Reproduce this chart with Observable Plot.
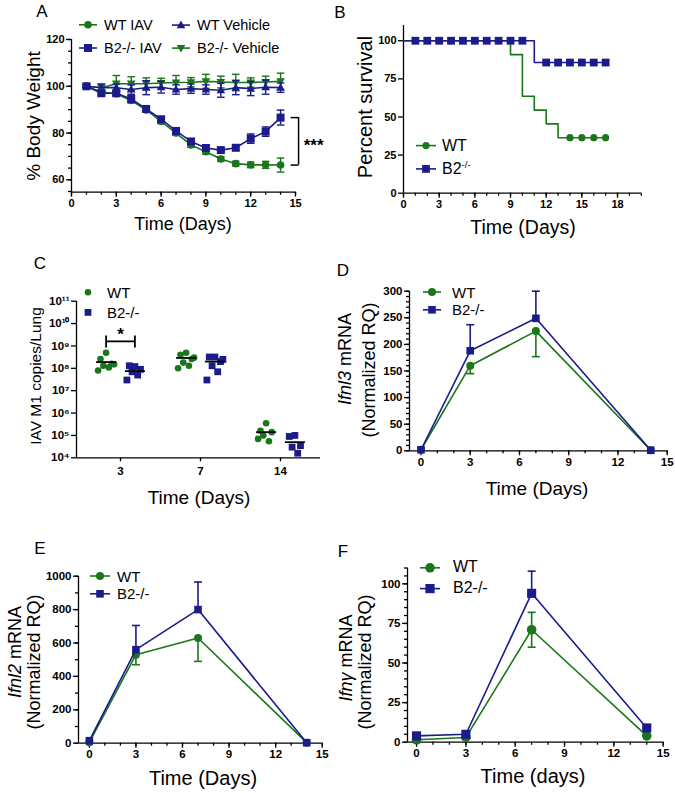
<!DOCTYPE html>
<html><head><meta charset="utf-8">
<script src="https://cdn.jsdelivr.net/npm/d3@7"></script>
<script src="https://cdn.jsdelivr.net/npm/@observablehq/plot@0.6"></script>
<style>
body{margin:0;background:#fff;}
#fig{position:relative;width:675px;height:793px;font-family:"Liberation Sans",Arial,Helvetica,sans-serif;color:#000;overflow:hidden;background:#fff}
.lab{position:absolute;white-space:nowrap;line-height:1;}
.rot{transform:translate(-50%,-50%) rotate(-90deg);}
.ctr{transform:translate(-50%,-50%);}
.ltxt{position:absolute;white-space:nowrap;line-height:1;transform:translateY(-50%);}
sup{font-size:60%;vertical-align:0.6em;line-height:0}
</style></head>
<body><div id="fig"></div>
<script>
const GREEN = "#1a761a", BLUE = "#1b1b8c";

// ---------- Panel A: % body weight ----------
const daysA   = [1,2,3,4,5,6,7,8,9,10,11,12,13,14];
const wtIAV   = [100,97.5,96.8,93.9,89.9,85.0,80.0,74.9,72.0,68.9,66.9,66.4,66.4,66.3];
const wtIAVse = [0.5,0.8,0.8,1,1,1,1,1,1,1,1,1.2,1.5,3];
const b2IAV   = [100,97,97,94.6,90.3,85.9,80.9,76.4,73.6,72.7,73.7,77.6,80.6,86.6];
const b2IAVse = [0.5,1,1,1.5,1,1,1,1,1,0.8,1,2,2,3.2];
const wtVeh   = [100,99.4,99.4,98.6,99.4,99.6,98.6,99,98.6,98.3,99.4,99,99.6,99.4];
const wtVehSe = [0.5,1.5,1.5,2,3,2.5,2,2,2,3,3,3,3,2];
const b2Veh   = [100,99.4,101.1,101.1,101.1,101.4,101.6,101.7,102.1,101.8,101.6,101.6,101.8,102.1];
const b2VehSe = [0.5,1.5,3.5,3,2.5,2,3,2,3,2.5,3.5,2,2.5,3.5];
const ticksA_x = [0,3,6,9,12,15], ticksA_y = [60,80,100,120];

// ---------- Panel B: survival ----------
const wtSurvT = [0,9,10,11,12,13,17], wtSurvS = [100,90.9,63.6,54.5,45.5,36.4,36.4];
const b2SurvT = [0,11,17],            b2SurvS = [100,85.7,85.7];
const wtMarkT = [14,15,16,17];
const b2MarkT = [1,2,3,4,5,6,7,8,9,10,12,13,14,15,16,17];
const ticksB_x = [0,3,6,9,12,15,18], ticksB_y = [0,25,50,75,100];

// ---------- Panel C: viral copies ----------
const cDays = ["3","7","14"];
const cWT = [[5e8,2.6e8,1.6e8,1.3e8,1.1e8,8e7,1.5e8],[5e8,4e8,2.6e8,1.8e8,1.3e8,1e8,3e8],[3.5e5,1.6e5,1.4e5,1e5,5.5e4,7e4]];
const cB2 = [[1.2e8,1.3e8,9e7,7e7,5e7,3e7],[3.2e8,3.2e8,2e8,1.3e8,7e7,3e7,2.5e8],[1e5,9e4,3.5e4,3e4,1.6e4]];
const cWTmean = [1.9e8,2.9e8,1.4e5], cB2mean = [7.5e7,2e8,5e4];
const cSigLevel = 1.6e9;
const ticksC_y = [1e4,1e5,1e6,1e7,1e8,1e9,1e10,1e11];

// ---------- Panels D, E, F ----------
const tDays = [0,3,7,14];
const dWT = [2,160,225,1], dWTerr = [0,15,48,0], dB2 = [2,188,249,1], dB2err = [0,49,51,0];
const eWT = [5,530,630,3], eWTerr = [0,60,140,0], eB2 = [15,560,800,3], eB2err = [0,145,165,0];
const fWT = [1.5,3,71,4], fWTerr = [0,0,11,0],   fB2 = [4,5,94,9],     fB2err = [0,0,14,0];
const ticksT_x = [0,3,6,9,12,15];

// ---------- helpers ----------
const fig = document.getElementById("fig");
const sym = f => ({draw(ctx, size){ f(ctx, Math.sqrt(size/Math.PI)); }});
const SQUARE = sym((c,r)=>{c.moveTo(-r,-r);c.lineTo(r,-r);c.lineTo(r,r);c.lineTo(-r,r);c.closePath();});
const TRI_UP = sym((c,r)=>{c.moveTo(0,-r*1.1);c.lineTo(r*1.05,r*0.75);c.lineTo(-r*1.05,r*0.75);c.closePath();});
const TRI_DN = sym((c,r)=>{c.moveTo(0,r*1.1);c.lineTo(r*1.05,-r*0.75);c.lineTo(-r*1.05,-r*0.75);c.closePath();});
const HBAR = sym((c,r)=>{c.moveTo(-r,0);c.lineTo(r,0);});
const VBAR = sym((c,r)=>{c.moveTo(0,-r);c.lineTo(0,r);});
const range = (a,b,s) => { const o=[]; for(let v=a; v<=b+1e-9; v+=s) o.push(+v.toFixed(6)); return o; };

function axes(o){
  const sw = 1.3;
  const m = [
    Plot.ruleY([o.yDomain[0]], {stroke:"#000", strokeWidth:sw}),
    Plot.ruleX([o.xDomain[0]], {stroke:"#000", strokeWidth:sw}),
    Plot.axisX({ticks:o.xTicks, tickFormat:o.xFmt || (d=>String(d)), tickSize:o.xTickSize ?? 5, tickPadding:o.xPad ?? 2, strokeWidth:sw, fontSize:o.fs, fontWeight:"bold", label:null}),
    Plot.axisY({ticks:o.yTicks, tickFormat:o.yFmt || (d=>String(d)), tickSize:5, tickPadding:2, strokeWidth:sw, fontSize:o.fs, fontWeight:"bold", label:null})
  ];
  if (o.xMinor) m.push(Plot.axisX({ticks:o.xMinor, tickFormat:()=>"", tickSize:3, strokeWidth:sw, label:null}));
  if (o.yMinor) m.push(Plot.axisY({ticks:o.yMinor, tickFormat:()=>"", tickSize:3, strokeWidth:sw, label:null}));
  return m;
}
function errMarks(xs, ys, es, mode, color, capR, sw){
  const bars = [], caps = [];
  xs.forEach((x,i)=>{
    const e = es[i]; if (!e) return;
    const lo = mode==="up" ? ys[i] : ys[i]-e, hi = mode==="down" ? ys[i] : ys[i]+e;
    bars.push({x, y1:lo, y2:hi});
    if (mode!=="up") caps.push({x, y:lo});
    if (mode!=="down") caps.push({x, y:hi});
  });
  return [
    Plot.ruleX(bars, {x:"x", y1:"y1", y2:"y2", stroke:color, strokeWidth:sw}),
    Plot.dot(caps, {x:"x", y:"y", symbol:HBAR, r:capR, stroke:color, strokeWidth:sw, fill:"none"})
  ];
}
function place(svg, left, top){
  svg.style.position="absolute"; svg.style.left=left+"px"; svg.style.top=top+"px"; svg.style.overflow="visible";
  svg.querySelectorAll("text").forEach(t=>{ t.setAttribute("font-weight","bold"); t.style.fontWeight="bold"; });
  fig.appendChild(svg);
}
function label(html, x, y, size, rot){
  const d=document.createElement("div"); d.className="lab "+(rot?"rot":"ctr");
  d.style.left=x+"px"; d.style.top=y+"px"; d.style.fontSize=size+"px"; d.innerHTML=html; fig.appendChild(d);
}
function shapeSvg(shape, cx, cy, r, color){
  if (shape==="circle") return `<circle cx="${cx}" cy="${cy}" r="${r}" fill="${color}"/>`;
  if (shape==="square") return `<rect x="${cx-r}" y="${cy-r}" width="${2*r}" height="${2*r}" fill="${color}"/>`;
  if (shape==="up") return `<path d="M${cx},${cy-r*1.1}L${cx+r*1.05},${cy+r*0.75}L${cx-r*1.05},${cy+r*0.75}Z" fill="${color}"/>`;
  return `<path d="M${cx},${cy+r*1.1}L${cx+r*1.05},${cy-r*0.75}L${cx-r*1.05},${cy-r*0.75}Z" fill="${color}"/>`;
}
function legend(x1, x2, y, color, shape, r, html, tx, fs){
  const pad = r+2, w = x2-x1, hh = 2*pad;
  const cx = w>0 ? w/2 : 0;
  const s = document.createElementNS("http://www.w3.org/2000/svg","svg");
  s.setAttribute("width", Math.max(w,1)); s.setAttribute("height", hh);
  s.style.cssText = `position:absolute;left:${x1}px;top:${y-pad}px;overflow:visible`;
  s.innerHTML = (w>0?`<line x1="0" x2="${w}" y1="${pad}" y2="${pad}" stroke="${color}" stroke-width="1.6"/>`:"") + shapeSvg(shape, cx, pad, r, color);
  fig.appendChild(s);
  const t=document.createElement("div"); t.className="ltxt"; t.style.left=tx+"px"; t.style.top=y+"px"; t.style.fontSize=fs+"px"; t.innerHTML=html; fig.appendChild(t);
}
const baseStyle = {fontFamily:'"Liberation Sans", Arial, sans-serif', color:"#000", background:"transparent", overflow:"visible"};

// ---------- draw A ----------
{
  const xD=[0,15], yD=[54.7,120];
  const sets = [
    {ys:b2Veh, se:b2VehSe, c:GREEN, s:TRI_DN, r:4.1},
    {ys:wtVeh, se:wtVehSe, c:BLUE,  s:TRI_UP, r:4.1},
    {ys:wtIAV, se:wtIAVse, c:GREEN, s:"circle", r:3.8},
    {ys:b2IAV, se:b2IAVse, c:BLUE,  s:SQUARE, r:4}
  ];
  const marks = axes({xDomain:xD, yDomain:yD, xTicks:ticksA_x, yTicks:ticksA_y, xMinor:range(0,15,1), yMinor:range(55,120,5), fs:11});
  for (const st of sets){
    const rows = daysA.map((d,i)=>({x:d, y:st.ys[i]}));
    marks.push(...errMarks(daysA, st.ys, st.se, "both", st.c, 3.8, 1.4));
    marks.push(Plot.line(rows, {x:"x", y:"y", stroke:st.c, strokeWidth:1.6}));
    marks.push(Plot.dot(rows, {x:"x", y:"y", symbol:st.s, r:st.r, fill:st.c, stroke:"none"}));
  }
  const last = daysA.length-1;
  const br = {x:daysA[last], y1:b2IAV[last], y2:wtIAV[last], m:(b2IAV[last]+wtIAV[last])/2};
  marks.push(Plot.ruleX([br], {x:"x", y1:"y1", y2:"y2", dx:18, stroke:"#000", strokeWidth:1.5}));
  marks.push(Plot.dot([{x:br.x,y:br.y1},{x:br.x,y:br.y2}], {x:"x", y:"y", symbol:HBAR, r:4, dx:14, stroke:"#000", strokeWidth:1.5}));
  marks.push(Plot.text([br], {x:"x", y:"m", text:()=>"***", dx:33, dy:4, fontSize:17, fill:"#000"}));
  place(Plot.plot({width:337, height:240, marginLeft:71, marginRight:42, marginTop:39, marginBottom:48.3,
    x:{domain:xD, label:null}, y:{domain:yD, label:null}, style:baseStyle, marks}), 0, 0);
}
// ---------- draw B ----------
{
  const xD=[0,20], yD=[0,110];
  const stepAt = (T,S,t) => { let v=S[0]; T.forEach((tt,i)=>{ if (t>=tt) v=S[i]; }); return v; };
  const wtL = wtSurvT.map((t,i)=>({t, s:wtSurvS[i]})), b2L = b2SurvT.map((t,i)=>({t, s:b2SurvS[i]}));
  const wtM = wtMarkT.map(t=>({t, s:stepAt(wtSurvT,wtSurvS,t)})), b2M = b2MarkT.map(t=>({t, s:stepAt(b2SurvT,b2SurvS,t)}));
  const marks = axes({xDomain:xD, yDomain:yD, xTicks:ticksB_x, yTicks:ticksB_y, xMinor:range(0,20,1), fs:11});
  marks.push(Plot.line(wtL, {x:"t", y:"s", curve:"step-after", stroke:GREEN, strokeWidth:1.6}));
  marks.push(Plot.dot(wtM, {x:"t", y:"s", r:3.6, fill:GREEN}));
  marks.push(Plot.line(b2L, {x:"t", y:"s", curve:"step-after", stroke:BLUE, strokeWidth:1.6}));
  marks.push(Plot.dot(b2M, {x:"t", y:"s", symbol:SQUARE, r:3.9, fill:BLUE}));
  place(Plot.plot({width:345, height:240, marginLeft:73, marginRight:34.2, marginTop:25, marginBottom:47.3,
    x:{domain:xD, label:null}, y:{domain:yD, label:null}, style:baseStyle, marks}), 330, 0);
}
// ---------- draw C ----------
{
  const xD=[-0.55,2.5], yD=[1e4,1e11];
  const off = 0.18, jit = [0,-0.07,0.07,-0.035,0.035,-0.1,0.1];
  const sup = n => String(n).split("").map(ch=>"⁰¹²³⁴⁵⁶⁷⁸⁹"[+ch]).join("");
  const pts = (arr, sgn) => arr.flatMap((vals,gi)=>vals.map((v,j)=>({x:gi+sgn*off+jit[j%jit.length], y:v})));
  const means = (arr, sgn) => arr.map((v,gi)=>({x:gi+sgn*off, y:v}));
  const marks = axes({xDomain:xD, yDomain:yD, xTicks:[0,1,2], xFmt:i=>cDays[i], xTickSize:4, xPad:5, yTicks:ticksC_y, yFmt:d=>"10"+sup(Math.round(Math.log10(d))), fs:11.5});
  marks.push(Plot.dot(pts(cWT,-1), {x:"x", y:"y", r:3.3, fill:GREEN}));
  marks.push(Plot.dot(pts(cB2,1), {x:"x", y:"y", symbol:SQUARE, r:3.4, fill:BLUE}));
  marks.push(Plot.dot(means(cWTmean,-1), {x:"x", y:"y", symbol:HBAR, r:10, stroke:"#000", strokeWidth:1.8}));
  marks.push(Plot.dot(means(cB2mean,1), {x:"x", y:"y", symbol:HBAR, r:10, stroke:"#000", strokeWidth:1.8}));
  const sig = {x1:0-off, x2:0+off, x:0, y:cSigLevel};
  marks.push(Plot.link([sig], {x1:"x1", x2:"x2", y1:"y", y2:"y", stroke:"#000", strokeWidth:1.8}));
  marks.push(Plot.dot([{x:sig.x1,y:sig.y},{x:sig.x2,y:sig.y}], {x:"x", y:"y", symbol:VBAR, r:6, stroke:"#000", strokeWidth:1.8}));
  marks.push(Plot.text([sig], {x:"x", y:"y", text:()=>"*", dy:-7, fontSize:17, fill:"#000"}));
  place(Plot.plot({width:337, height:260, marginLeft:76, marginRight:17, marginTop:50.7, marginBottom:52.7,
    x:{domain:xD, label:null}, y:{type:"log", domain:yD, label:null}, style:baseStyle, marks}), 0, 250);
}
// ---------- D/E/F ----------
function ifn(o){
  const marks = axes({xDomain:o.xD, yDomain:o.yD, xTicks:ticksT_x, yTicks:o.yTicks, xMinor:range(0,15,1), yMinor:o.yMinor, fs:11.5});
  const wt = tDays.map((d,i)=>({x:d,y:o.wt[i]})), b2 = tDays.map((d,i)=>({x:d,y:o.b2[i]}));
  marks.push(...errMarks(tDays, o.wt, o.wtErr, o.wtMode, GREEN, 4, 1.6));
  marks.push(Plot.line(wt, {x:"x", y:"y", stroke:GREEN, strokeWidth:1.6}));
  marks.push(Plot.dot(wt, {x:"x", y:"y", r:o.r, fill:GREEN}));
  marks.push(...errMarks(tDays, o.b2, o.b2Err, o.b2Mode, BLUE, 4, 1.6));
  marks.push(Plot.line(b2, {x:"x", y:"y", stroke:BLUE, strokeWidth:1.6}));
  marks.push(Plot.dot(b2, {x:"x", y:"y", symbol:SQUARE, r:o.r*0.95, fill:BLUE}));
  place(Plot.plot({width:o.w, height:o.h, marginLeft:o.mL, marginRight:o.mR, marginTop:o.mT, marginBottom:o.mB,
    x:{domain:o.xD, label:null}, y:{domain:o.yD, label:null}, style:baseStyle, marks}), o.left, o.top);
}
ifn({left:330, top:250, w:345, h:260, mL:79, mR:8.3, mT:40.7, mB:59.7, xD:[-0.7,15], yD:[0,300],
  yTicks:range(0,300,50), yMinor:range(0,300,10), wt:dWT, wtErr:dWTerr, wtMode:"down", b2:dB2, b2Err:dB2err, b2Mode:"up", r:4});
ifn({left:0, top:530, w:337, h:263, mL:78, mR:15.3, mT:45.7, mB:50.3, xD:[-0.7,15], yD:[0,1000],
  yTicks:range(0,1000,200), yMinor:range(0,1000,100), wt:eWT, wtErr:eWTerr, wtMode:"down", b2:eB2, b2Err:eB2err, b2Mode:"up", r:4});
ifn({left:330, top:530, w:345, h:263, mL:77, mR:12.3, mT:37.5, mB:51.3, xD:[-0.55,15], yD:[0,110],
  yTicks:[0,25,50,75,100], yMinor:range(0,110,5), wt:fWT, wtErr:fWTerr, wtMode:"both", b2:fB2, b2Err:fB2err, b2Mode:"up", r:4.8});

// ---------- text labels ----------
label("A", 42, 11, 17); label("B", 340, 12, 17); label("C", 40, 263, 17);
label("D", 343, 270, 17); label("E", 40, 548, 17); label("F", 343, 551, 17);
label("% Body Weight", 33, 116, 19, true);
label("Time (Days)", 183, 224, 18);
label("Percent survival", 365, 107, 20, true);
label("Time (Days)", 523, 228, 19.5);
label("IAV M1 copies/Lung", 36, 376, 15.5, true);
label("Time (Days)", 199, 497, 19);
label("<i>Ifnl3</i> mRNA", 345, 359, 18, true);
label("(Normalized RQ)", 369, 370, 18, true);
label("Time (Days)", 537, 488, 19);
label("<i>Ifnl2</i> mRNA", 15, 652, 18, true);
label("(Normalized RQ)", 34, 662, 18, true);
label("Time (Days)", 203, 778, 20);
label("<i>Ifn&gamma;</i> mRNA", 346, 658, 18, true);
label("(Normalized RQ)", 365, 662, 18, true);
label("Time (days)", 533, 776, 20);

// ---------- legends ----------
legend(79, 97, 25, GREEN, "circle", 3.8, "WT IAV", 104, 14.5);
legend(172, 190, 25, BLUE, "up", 4.1, "WT Vehicle", 197, 14.5);
legend(79, 97, 47.7, BLUE, "square", 4, "B2-/- IAV", 104, 14.5);
legend(172, 190, 47.7, GREEN, "down", 4.1, "B2-/- Vehicle", 197, 14.5);
legend(416, 436, 145.7, GREEN, "circle", 3.6, "WT", 442, 16);
legend(416, 436, 169, BLUE, "square", 3.9, "B2<sup>-/-</sup>", 442, 16);
legend(88, 88, 292, GREEN, "circle", 3.3, "WT", 107, 15);
legend(88, 88, 312, BLUE, "square", 3.4, "B2-/-", 107, 15);
legend(423, 441, 291.7, GREEN, "circle", 4, "WT", 452, 15);
legend(423, 441, 309.3, BLUE, "square", 3.8, "B2-/-", 452, 15);
legend(90, 110, 575.7, GREEN, "circle", 4, "WT", 117, 15);
legend(90, 110, 593.3, BLUE, "square", 3.8, "B2-/-", 117, 15);
legend(420, 440, 567.3, GREEN, "circle", 4.8, "WT", 453, 16);
legend(420, 440, 588.3, BLUE, "square", 4.6, "B2-/-", 453, 16);
</script></body></html>
